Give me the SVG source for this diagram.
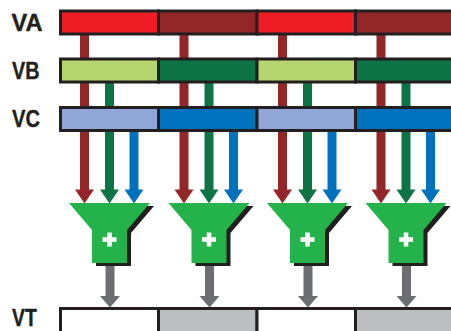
<svg xmlns="http://www.w3.org/2000/svg" width="451" height="331" viewBox="0 0 451 331">
<style>
.lbl{font-family:"Liberation Sans",Arial,sans-serif;font-weight:bold;font-size:24px;fill:#231f20;stroke:#231f20;stroke-width:0.4}
.cell{stroke:#231f20;stroke-width:3}
.r{fill:#922628}.g{fill:#0e7445}.b{fill:#0071bd}.k{fill:#6d6e71}
.fun{fill:#24b24b}.sh{fill:#231f20}
.plus{fill:#fff}
</style>
<defs>
<polygon id="funnel" points="10,203 91,203 68,230 68,263 33,263 33,230"/>
<g id="plusg"><rect x="-7" y="-2.3" width="14" height="4.6"/><rect x="-2.3" y="-7" width="4.6" height="14"/></g>
</defs>
<rect width="451" height="331" fill="#fff"/>
<g id="connectors">
<g transform="translate(59,0)">
<rect class="r" x="21" y="20" width="9" height="171"/><polygon class="r" points="16,189.5 35,189.5 25.5,203.5"/>
<rect class="g" x="46" y="70" width="9" height="121"/><polygon class="g" points="41,189.5 60,189.5 50.5,203.5"/>
<rect class="b" x="70.5" y="119" width="9" height="72"/><polygon class="b" points="65.5,189.5 84.5,189.5 75,203.5"/>
<rect class="k" x="46.5" y="260" width="9" height="37"/><polygon class="k" points="41,296 61,296 51,307.5"/>
</g>
<g transform="translate(158.5,0)">
<rect class="r" x="21" y="20" width="9" height="171"/><polygon class="r" points="16,189.5 35,189.5 25.5,203.5"/>
<rect class="g" x="46" y="70" width="9" height="121"/><polygon class="g" points="41,189.5 60,189.5 50.5,203.5"/>
<rect class="b" x="70.5" y="119" width="9" height="72"/><polygon class="b" points="65.5,189.5 84.5,189.5 75,203.5"/>
<rect class="k" x="46.5" y="260" width="9" height="37"/><polygon class="k" points="41,296 61,296 51,307.5"/>
</g>
<g transform="translate(257,0)">
<rect class="r" x="21" y="20" width="9" height="171"/><polygon class="r" points="16,189.5 35,189.5 25.5,203.5"/>
<rect class="g" x="46" y="70" width="9" height="121"/><polygon class="g" points="41,189.5 60,189.5 50.5,203.5"/>
<rect class="b" x="70.5" y="119" width="9" height="72"/><polygon class="b" points="65.5,189.5 84.5,189.5 75,203.5"/>
<rect class="k" x="46.5" y="260" width="9" height="37"/><polygon class="k" points="41,296 61,296 51,307.5"/>
</g>
<g transform="translate(355.5,0)">
<rect class="r" x="21" y="20" width="9" height="171"/><polygon class="r" points="16,189.5 35,189.5 25.5,203.5"/>
<rect class="g" x="46" y="70" width="9" height="121"/><polygon class="g" points="41,189.5 60,189.5 50.5,203.5"/>
<rect class="b" x="70.5" y="119" width="9" height="72"/><polygon class="b" points="65.5,189.5 84.5,189.5 75,203.5"/>
<rect class="k" x="46.5" y="260" width="9" height="37"/><polygon class="k" points="41,296 61,296 51,307.5"/>
</g>
</g>
<g id="VA">
<text class="lbl" x="11.5" y="30.5" textLength="31" lengthAdjust="spacingAndGlyphs">VA</text>
<rect class="cell" x="60.5" y="11" width="98" height="23" fill="#ee1c25"/>
<rect class="cell" x="158.5" y="11" width="98.5" height="23" fill="#922628"/>
<rect class="cell" x="257" y="11" width="98.5" height="23" fill="#ee1c25"/>
<rect class="cell" x="355.5" y="11" width="98.5" height="23" fill="#922628"/>
</g>
<g id="VB">
<text class="lbl" x="12" y="78.5" textLength="27.5" lengthAdjust="spacingAndGlyphs">VB</text>
<rect class="cell" x="60.5" y="59" width="98" height="23" fill="#b5d56f"/>
<rect class="cell" x="158.5" y="59" width="98.5" height="23" fill="#0e7445"/>
<rect class="cell" x="257" y="59" width="98.5" height="23" fill="#b5d56f"/>
<rect class="cell" x="355.5" y="59" width="98.5" height="23" fill="#0e7445"/>
</g>
<g id="VC">
<text class="lbl" x="12" y="126.5" textLength="28" lengthAdjust="spacingAndGlyphs">VC</text>
<rect class="cell" x="60.5" y="107.5" width="98" height="23" fill="#8fa6d6"/>
<rect class="cell" x="158.5" y="107.5" width="98.5" height="23" fill="#0071bd"/>
<rect class="cell" x="257" y="107.5" width="98.5" height="23" fill="#8fa6d6"/>
<rect class="cell" x="355.5" y="107.5" width="98.5" height="23" fill="#0071bd"/>
</g>
<g id="add1" transform="translate(59,0)">
<use href="#funnel" class="sh" transform="translate(4,3)"/><use href="#funnel" class="fun"/>
<use href="#plusg" class="plus" transform="translate(50.5,239.5)"/>
</g>
<g id="add2" transform="translate(158.5,0)">
<use href="#funnel" class="sh" transform="translate(4,3)"/><use href="#funnel" class="fun"/>
<use href="#plusg" class="plus" transform="translate(50.5,239.5)"/>
</g>
<g id="add3" transform="translate(257,0)">
<use href="#funnel" class="sh" transform="translate(4,3)"/><use href="#funnel" class="fun"/>
<use href="#plusg" class="plus" transform="translate(50.5,239.5)"/>
</g>
<g id="add4" transform="translate(355.5,0)">
<use href="#funnel" class="sh" transform="translate(4,3)"/><use href="#funnel" class="fun"/>
<use href="#plusg" class="plus" transform="translate(50.5,239.5)"/>
</g>
<g id="VT">
<text class="lbl" x="12" y="326" textLength="24.7" lengthAdjust="spacingAndGlyphs">VT</text>
<rect class="cell" x="60.5" y="308.5" width="98" height="30" fill="#ffffff"/>
<rect class="cell" x="158.5" y="308.5" width="98.5" height="30" fill="#bcbec0"/>
<rect class="cell" x="257" y="308.5" width="98.5" height="30" fill="#ffffff"/>
<rect class="cell" x="355.5" y="308.5" width="98.5" height="30" fill="#bcbec0"/>
</g>
</svg>
